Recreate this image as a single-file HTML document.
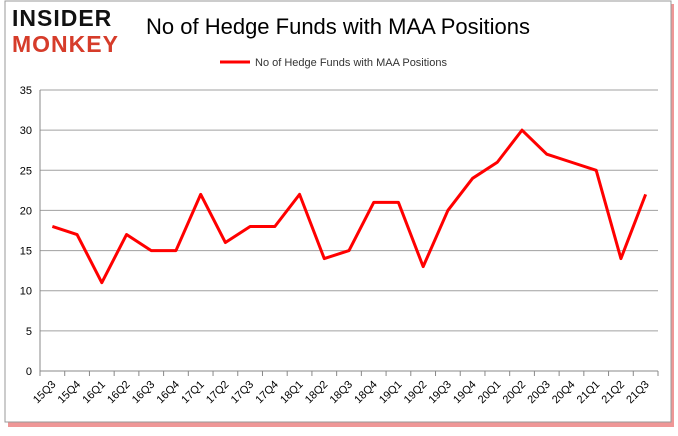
<!DOCTYPE html>
<html><head><meta charset="utf-8"><style>
body{margin:0;width:678px;height:431px;background:#fff;overflow:hidden;font-family:"Liberation Sans",sans-serif}
</style></head><body>
<svg width="678" height="431" xmlns="http://www.w3.org/2000/svg">
<rect x="8" y="4" width="666" height="423" fill="#e03030" opacity="0.5"/>
<rect x="5" y="1" width="666" height="421" fill="#fff" stroke="#999"/>
<text x="12" y="26" font-size="23" font-weight="bold" fill="#111" letter-spacing="1">INSIDER</text>
<text x="12" y="52" font-size="23" font-weight="bold" fill="#d63c2a" letter-spacing="1">MONKEY</text>
<text x="338" y="34" font-size="22" text-anchor="middle" fill="#000">No of Hedge Funds with MAA Positions</text>
<line x1="220" y1="62" x2="250" y2="62" stroke="#f00" stroke-width="3"/>
<text x="255" y="66" font-size="11" fill="#333">No of Hedge Funds with MAA Positions</text>
<g id="g"></g>
</svg>
<script>
const categories=["15Q3","15Q4","16Q1","16Q2","16Q3","16Q4","17Q1","17Q2","17Q3","17Q4","18Q1","18Q2","18Q3","18Q4","19Q1","19Q2","19Q3","19Q4","20Q1","20Q2","20Q3","20Q4","21Q1","21Q2","21Q3"];
const values=[18,17,11,17,15,15,22,16,18,18,22,14,15,21,21,13,20,24,26,30,27,26,25,14,22];
const yTicks=[0,5,10,15,20,25,30,35];
const NS="http://www.w3.org/2000/svg",g=document.getElementById('g');
const x0=40,x1=658,y0=371,y1=90,yMax=35;
const bw=(x1-x0)/categories.length;
const X=i=>x0+bw*(i+0.5), Y=v=>y0-(v/yMax)*(y0-y1);
function mk(t,a){const e=document.createElementNS(NS,t);for(const k in a)e.setAttribute(k,a[k]);g.appendChild(e);return e;}
yTicks.forEach(v=>{
 if(v>0){const l=mk('line',{x1:x0,x2:x1,y1:Y(v),y2:Y(v),stroke:'#a0a0a0','stroke-width':1});
 
 }
 const t=mk('text',{x:x0-8,y:Y(v)+4,'font-size':11,'text-anchor':'end',fill:'#000'});t.textContent=v;
 
 
});
const ax=mk('path',{d:`M${x0} ${y1}V${y0}H${x1}`,stroke:'#888',fill:'none'});


for(let i=0;i<=categories.length;i++){const tk=mk('line',{x1:x0+bw*i,x2:x0+bw*i,y1:y0,y2:y0+5,stroke:'#888'});
 
 }
categories.forEach((c,i)=>{const t=mk('text',{x:X(i)+4,y:y0+14,'font-size':11,'text-anchor':'end',fill:'#000',transform:`rotate(-45 ${X(i)+4} ${y0+14})`});t.textContent=c;
 
 });
const line=mk('polyline',{points:values.map((v,i)=>X(i)+','+Y(v)).join(' '),fill:'none',stroke:'#f00','stroke-width':3,'stroke-linejoin':'round'});


</script>
</body></html>
